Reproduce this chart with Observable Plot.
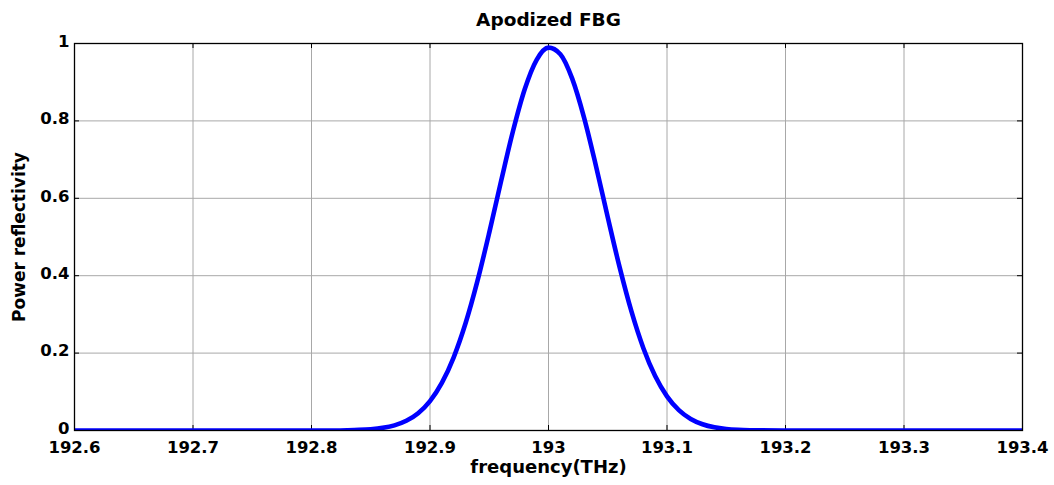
<!DOCTYPE html>
<html>
<head>
<meta charset="utf-8">
<script src="https://cdn.jsdelivr.net/npm/d3@7"></script>
<script src="https://cdn.jsdelivr.net/npm/@observablehq/plot@0.6"></script>
<style>
  html, body { margin: 0; padding: 0; background: #fff; }
  #chart svg { display: block; }
</style>
</head>
<body>
<div id="chart"></div>
<script>
const titleText = "Apodized FBG";
const xLabel = "frequency(THz)";
const yLabel = "Power reflectivity";

const xTicks = [192.6, 192.7, 192.8, 192.9, 193.0, 193.1, 193.2, 193.3, 193.4];
const xTickLabels = ["192.6", "192.7", "192.8", "192.9", "193", "193.1", "193.2", "193.3", "193.4"];
const yTicks = [0, 0.2, 0.4, 0.6, 0.8, 1];
const yTickLabels = ["0", "0.2", "0.4", "0.6", "0.8", "1"];

const frequency = [
  192.60, 192.65, 192.70, 192.75, 192.80,
  192.82, 192.83, 192.84, 192.85, 192.86, 192.87, 192.88, 192.89, 192.90,
  192.91, 192.92, 192.93, 192.94, 192.95, 192.96, 192.97, 192.98, 192.99,
  193.00, 193.01, 193.02, 193.03, 193.04, 193.05, 193.06, 193.07, 193.08,
  193.09, 193.10, 193.11, 193.12, 193.13, 193.14, 193.15, 193.16, 193.17, 193.18,
  193.20, 193.25, 193.30, 193.35, 193.40
];
const reflectivity = [
  0, 0, 0, 0, 0,
  0.0001, 0.0006, 0.0015, 0.0033, 0.0068, 0.0133, 0.0250, 0.0447, 0.0760,
  0.1230, 0.1892, 0.2770, 0.3858, 0.5113, 0.6446, 0.7732, 0.8823, 0.9579,
  0.9894, 0.9724, 0.9091, 0.8086, 0.6843, 0.5509, 0.4220, 0.3076, 0.2133,
  0.1407, 0.0883, 0.0527, 0.0299, 0.0162, 0.0083, 0.0041, 0.0019, 0.0008, 0.0003,
  0, 0, 0, 0, 0
];

const data = frequency.map((f, i) => ({f, r: reflectivity[i]}));
const xFmt = new Map(xTicks.map((t, i) => [t, xTickLabels[i]]));
const yFmt = new Map(yTicks.map((t, i) => [t, yTickLabels[i]]));

const W = 1054, H = 485;
const mL = 74, mR = 32, mT = 43, mB = 55;
const innerH = H - mT - mB;
const innerW = W - mL - mR;

const chart = Plot.plot({
  width: W,
  height: H,
  marginLeft: mL,
  marginRight: mR,
  marginTop: mT,
  marginBottom: mB,
  style: {fontFamily: "'DejaVu Sans', sans-serif", fontWeight: "bold", fontSize: "16.5px", color: "#000", background: "#fff"},
  x: {domain: [192.6, 193.4]},
  y: {domain: [0, 1]},
  marks: [
    Plot.gridX(xTicks, {stroke: "#a8a8a8", strokeOpacity: 1, strokeWidth: 1}),
    Plot.gridY(yTicks, {stroke: "#a8a8a8", strokeOpacity: 1, strokeWidth: 1}),
    Plot.ruleX(xTicks, {stroke: "#000", strokeWidth: 1, insetTop: innerH - 5}),
    Plot.ruleX(xTicks, {stroke: "#000", strokeWidth: 1, insetBottom: innerH - 5}),
    Plot.ruleY(yTicks, {stroke: "#000", strokeWidth: 1, insetRight: innerW - 5}),
    Plot.ruleY(yTicks, {stroke: "#000", strokeWidth: 1, insetLeft: innerW - 5}),
    Plot.line(data, {x: "f", y: "r", stroke: "#0000ff", strokeWidth: 4.6, curve: "monotone-x", clip: "frame"}),
    Plot.frame({stroke: "#000", strokeWidth: 1.3}),
    Plot.axisX(xTicks, {tickSize: 0, tickPadding: 11, tickFormat: d => xFmt.get(d), fontSize: 16.5, label: null}),
    Plot.axisY(yTicks, {tickSize: 0, tickPadding: 5, dy: -2, tickFormat: d => yFmt.get(d), fontSize: 16.5, label: null}),
    Plot.text([titleText], {frameAnchor: "top", lineAnchor: "middle", dy: -23, fontSize: 18.5, fontWeight: "bold", fill: "#000"}),
    Plot.text([xLabel], {frameAnchor: "bottom", lineAnchor: "middle", dy: 37, fontSize: 18, fontWeight: "bold", fill: "#000"}),
    Plot.text([yLabel], {frameAnchor: "left", textAnchor: "middle", lineAnchor: "middle", dx: -55, rotate: -90, fontSize: 17, fontWeight: "bold", fill: "#000"})
  ]
});
document.getElementById("chart").appendChild(chart);
</script>
</body>
</html>
